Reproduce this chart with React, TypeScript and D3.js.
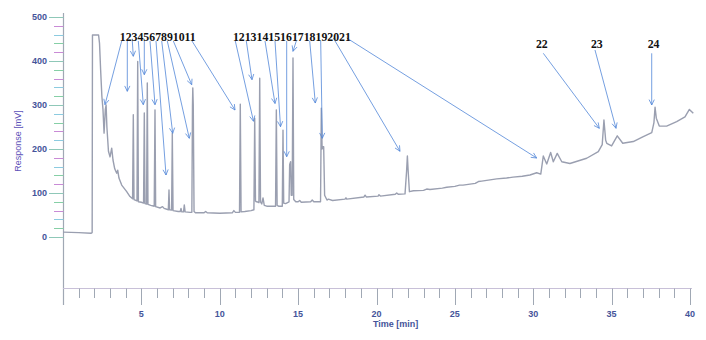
import React from "react";
import * as d3 from "d3";

// Chromatogram trace: [time (min), response (mV)]
const trace: [number, number][] = [
  [0, 11], [1.0, 10], [1.78, 8.5], [1.86, 10],
  [1.88, 459], [2.27, 459],
  [2.33, 440], [2.40, 380], [2.48, 320], [2.55, 290],
  [2.62, 236], [2.70, 290], [2.75, 300], [2.80, 250],
  [2.90, 195], [3.0, 182], [3.107, 202], [3.19, 175],
  [3.30, 155], [3.426, 145], [3.49, 152], [3.57, 134],
  [3.745, 118], [4.064, 103], [4.274, 92], [4.44, 87],
  [4.485, 278], [4.53, 85],
  [4.72, 82], [4.766, 399], [4.81, 80],
  [5.0, 79], [5.14, 77], [5.187, 282], [5.23, 76], [5.33, 75], [5.378, 350], [5.42, 74],
  [5.6, 72], [5.82, 70], [5.869, 289], [5.91, 69],
  [6.2, 66], [6.35, 69], [6.45, 65], [6.72, 62], [6.762, 107], [6.80, 62], [6.93, 61], [6.973, 236], [7.02, 60],
  [7.35, 58], [7.48, 58], [7.528, 65], [7.58, 57], [7.69, 57], [7.738, 73], [7.79, 57],
  [8.1, 56], [8.22, 56], [8.26, 300], [8.28, 339], [8.31, 300], [8.36, 58], [8.45, 55],
  [9.0, 55], [9.1, 58], [9.2, 55], [10.0, 54], [10.8, 55], [10.9, 60], [11.0, 56],
  [11.26, 56], [11.31, 302], [11.36, 57],
  [11.6, 58], [12.0, 60], [12.18, 62], [12.23, 270], [12.28, 82], [12.33, 80], [12.39, 80], [12.50, 78],
  [12.55, 361], [12.60, 80], [12.68, 75], [12.76, 89], [12.84, 72],
  [13.0, 70], [13.3, 70], [13.56, 70], [13.61, 289], [13.66, 72], [13.75, 70],
  [13.99, 70], [14.035, 243], [14.08, 77], [14.2, 76],
  [14.42, 80], [14.46, 165], [14.52, 171], [14.56, 95], [14.62, 95],
  [14.673, 407], [14.72, 85], [14.85, 80], [15.0, 80], [15.1, 83], [15.2, 79],
  [15.8, 80], [15.9, 84], [16.0, 80], [16.43, 80],
  [16.48, 293], [16.53, 200], [16.58, 205], [16.63, 205], [16.69, 95], [16.84, 84],
  [16.93, 86], [17.2, 83], [17.99, 86], [18.05, 89], [18.1, 86],
  [19.2, 91], [19.27, 95], [19.35, 91], [20.1, 93], [20.16, 96], [20.25, 93],
  [21.2, 97], [21.29, 100], [21.4, 97], [21.82, 98], [21.92, 150], [21.97, 184], [22.02, 150],
  [22.1, 103], [22.35, 105], [23.0, 106], [23.2, 109], [23.41, 108], [24.2, 111], [24.48, 113],
  [25.0, 115], [25.3, 118], [25.52, 118], [26.3, 122], [26.5, 126], [26.71, 127],
  [27.67, 132], [28.3, 134], [28.71, 136], [29.3, 138], [29.79, 141],
  [30.22, 146], [30.48, 143], [30.64, 184], [30.86, 166], [31.11, 192], [31.28, 171],
  [31.53, 190], [31.82, 171], [32.34, 167], [33.41, 179], [34.15, 194],
  [34.40, 210], [34.51, 266], [34.62, 220], [34.69, 213], [35.0, 207],
  [35.36, 230], [35.71, 213], [36.38, 217], [37.02, 228], [37.56, 237],
  [37.70, 260], [37.77, 295], [37.85, 270], [38.04, 252], [38.51, 252],
  [39.15, 262], [39.68, 273], [39.96, 290], [40.21, 281],
];

// Peak label groups: text, time, response (baseline position)
const labelTexts = ["1234567891011", "12131415161718192021", "22", "23", "24"];
const labelTimes = [3.62, 10.84, 30.17, 33.68, 37.30];
const labelResponses = [445, 445, 429, 429, 429];

// Arrows: [start time, start mV, end time, end mV]
const arrows: [number, number, number, number][] = [
  [3.745, 445.5, 2.679, 300.7],
  [4.102, 445.5, 4.102, 331.1],
  [4.421, 445.5, 4.485, 410.7],
  [4.804, 445.5, 5.123, 300.7],
  [5.187, 445.5, 5.187, 368.9],
  [5.550, 445.5, 5.869, 300.7],
  [5.933, 445.5, 6.571, 140.9],
  [6.297, 445.5, 6.998, 235.7],
  [6.654, 445.5, 8.057, 224.3],
  [7.037, 445.5, 8.211, 346.1],
  [8.230, 445.5, 10.973, 288.6],
  [10.992, 445.5, 12.153, 263],
  [11.694, 445.5, 12.057, 357.5],
  [12.887, 445.5, 13.525, 303.4],
  [13.525, 445.5, 13.876, 250.7],
  [14.271, 445.5, 14.271, 182.5],
  [14.884, 445.5, 14.673, 422],
  [15.739, 445.5, 16.096, 304.5],
  [16.440, 445.5, 16.542, 224.3],
  [17.244, 452.3, 21.499, 194.8],
  [18.099, 452.3, 30.220, 179.5],
  [30.641, 417.5, 34.214, 247],
  [33.939, 425, 35.279, 247],
  [37.557, 417.5, 37.557, 300],
];

const yTickValues = [0, 100, 200, 300, 400, 500];
const xTickValues = [5, 10, 15, 20, 25, 30, 35, 40];

const W = 706;
const H = 340;

export default function App() {
  const x = d3.scaleLinear().domain([0, 40]).range([63, 690]);
  const y = d3.scaleLinear().domain([0, 500]).range([237, 17]);

  const line = d3
    .line<[number, number]>()
    .x((d) => x(d[0]))
    .y((d) => y(d[1]))
    .curve(d3.curveLinear);

  const minorY = d3.range(0, 501, 20);
  const minorX = d3.range(1, 41, 1);
  const tickCols = ["#c98bd6", "#86cfa6", "#8ccbe0"];

  const axisX = x(0) + 0.5;
  const axisY = 288.5;
  const blue = "#5286d8";
  const labelCol = "#45549a";

  const arrowHead = (x1: number, y1: number, x2: number, y2: number) => {
    const ang = Math.atan2(y2 - y1, x2 - x1);
    const len = 6;
    const spread = 0.45;
    const p1 = [x2 - len * Math.cos(ang - spread), y2 - len * Math.sin(ang - spread)];
    const p2 = [x2 - len * Math.cos(ang + spread), y2 - len * Math.sin(ang + spread)];
    return `M${p1[0]},${p1[1]} L${x2},${y2} L${p2[0]},${p2[1]}`;
  };

  return (
    <svg
      width={W}
      height={H}
      style={{ position: "absolute", left: 0, top: 0, background: "#fff" }}
    >
      {/* Y axis */}
      <line x1={axisX} x2={axisX} y1={13} y2={305} stroke="#a0a8b4" strokeWidth={1.2} />
      {minorY.map((v, i) => (
        <line
          key={"my" + v}
          x1={v % 100 === 0 ? 49 : 54}
          x2={axisX}
          y1={Math.round(y(v)) + 0.5}
          y2={Math.round(y(v)) + 0.5}
          stroke={v % 100 === 0 ? "#8fc8b8" : tickCols[i % 3]}
          strokeWidth={1}
        />
      ))}
      {yTickValues.map((v) => (
        <text
          key={"yl" + v}
          x={47}
          y={y(v) + 3}
          textAnchor="end"
          fontFamily="Liberation Sans, Arial, sans-serif"
          fontWeight="bold"
          fontSize={9}
          fill={labelCol}
        >
          {v}
        </text>
      ))}
      <text
        transform={`translate(21,141) rotate(-90)`}
        textAnchor="middle"
        fontFamily="Liberation Sans, Arial, sans-serif"
        fontSize={9}
        fill="#5c50b8"
      >
        Response [mV]
      </text>

      {/* X axis */}
      <line x1={x(0)} x2={x(40) + 2} y1={axisY} y2={axisY} stroke="#c8c0d8" strokeWidth={1.2} />
      {minorX.map((t) => (
        <line
          key={"mx" + t}
          x1={Math.round(x(t)) + 0.5}
          x2={Math.round(x(t)) + 0.5}
          y1={axisY}
          y2={t % 5 === 0 ? 305 : 298}
          stroke="#a0a8b4"
          strokeWidth={1}
        />
      ))}
      {xTickValues.map((t) => (
        <text
          key={"xl" + t}
          x={x(t)}
          y={317}
          textAnchor="middle"
          fontFamily="Liberation Sans, Arial, sans-serif"
          fontWeight="bold"
          fontSize={9}
          fill={labelCol}
        >
          {t}
        </text>
      ))}
      <text
        x={373}
        y={327}
        fontFamily="Liberation Sans, Arial, sans-serif"
        fontWeight="bold"
        fontSize={9}
        fill={labelCol}
      >
        Time [min]
      </text>

      {/* Trace */}
      <path
        d={line(trace) || ""}
        fill="none"
        stroke="#9a9fb0"
        strokeWidth={1.4}
        strokeLinejoin="round"
      />

      {/* Arrows */}
      {arrows.map((a, i) => {
        const x1 = x(a[0]);
        const y1 = y(a[1]);
        const x2 = x(a[2]);
        const y2 = y(a[3]);
        return (
          <g key={"ar" + i} stroke={blue} strokeWidth={0.8} fill="none">
            <line x1={x1} y1={y1} x2={x2} y2={y2} />
            <path d={arrowHead(x1, y1, x2, y2)} />
          </g>
        );
      })}

      {/* Peak labels */}
      {labelTexts.map((s, i) => (
        <text
          key={"pl" + i}
          x={x(labelTimes[i])}
          y={y(labelResponses[i])}
          fontFamily="Liberation Serif, Times New Roman, serif"
          fontWeight="bold"
          fontSize={11.8}
          fill="#111"
        >
          {s}
        </text>
      ))}
    </svg>
  );
}
